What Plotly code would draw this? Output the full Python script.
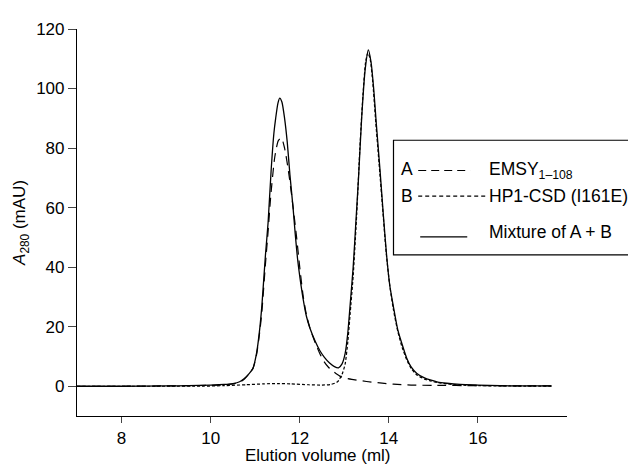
import plotly.graph_objects as go

# ---- data ----
mix_x = [7.0, 8.0, 9.0, 9.5, 10.0, 10.3, 10.5, 10.65, 10.75, 10.85, 10.95, 11.03, 11.1, 11.15,
         11.23, 11.29, 11.36, 11.42, 11.46, 11.51, 11.55, 11.6, 11.66, 11.72, 11.78, 11.85, 11.9,
         11.95, 12.0, 12.08, 12.15, 12.23, 12.35, 12.45, 12.55, 12.67, 12.78, 12.87, 12.95, 13.02,
         13.08, 13.13, 13.2, 13.26, 13.32, 13.39, 13.47, 13.54, 13.6, 13.66, 13.72, 13.8, 13.88,
         13.95, 14.02, 14.1, 14.2, 14.3, 14.4, 14.5, 14.63, 14.8, 14.93, 15.1, 15.3, 15.6, 16.0,
         16.5, 17.0, 17.65]
mix_y = [0.0, 0.0, 0.1, 0.2, 0.4, 0.6, 0.9, 1.5, 2.5, 4.0, 6.0, 11.0, 19.0, 27.0,
         44.0, 55.0, 73.0, 85.0, 90.0, 95.0, 96.8, 95.5, 90.0, 82.0, 71.0, 60.0, 51.0,
         43.0, 37.0, 29.0, 23.5, 19.5, 15.0, 12.0, 9.8, 7.8, 6.6, 6.2, 7.5, 11.0,
         18.0, 27.0, 40.0, 55.0, 70.0, 90.0, 106.5, 113.0, 109.0, 100.0, 88.0, 73.0, 57.0,
         44.0, 34.0, 27.0, 19.0, 14.0, 9.5, 6.5, 4.3, 2.8, 2.1, 1.4, 1.0, 0.6, 0.4,
         0.2, 0.1, 0.1]

emsy_x = [7.0, 8.0, 9.0, 9.5, 10.0, 10.3, 10.5, 10.65, 10.75, 10.85, 10.95, 11.03, 11.1, 11.15,
          11.23, 11.29, 11.35, 11.44, 11.52, 11.59, 11.66, 11.74, 11.82, 11.93, 12.0, 12.08,
          12.15, 12.23, 12.35, 12.45, 12.55, 12.65, 12.75, 12.9, 13.0, 13.17, 13.5, 13.8, 14.1,
          14.5, 15.0, 16.0, 17.0, 17.65]
emsy_y = [0.0, 0.0, 0.1, 0.2, 0.3, 0.5, 0.8, 1.3, 2.3, 4.0, 6.0, 10.5, 18.0, 25.0,
          41.0, 52.0, 64.0, 77.0, 82.5, 83.4, 80.0, 73.0, 64.0, 50.0, 40.0, 30.0,
          24.0, 19.5, 14.5, 11.0, 8.2, 6.3, 5.0, 3.4, 2.8, 2.3, 1.6, 1.1, 0.7,
          0.4, 0.3, 0.2, 0.1, 0.1]

hp1_x = [7.0, 8.0, 9.0, 9.8, 10.3, 10.8, 11.2, 11.5, 11.8, 12.2, 12.5, 12.7, 12.85, 12.95,
         13.02, 13.08, 13.13, 13.2, 13.28, 13.35, 13.42, 13.48, 13.53, 13.58, 13.64, 13.7,
         13.78, 13.86, 13.94, 14.02, 14.1, 14.2, 14.3, 14.4, 14.5, 14.63, 14.8, 14.93, 15.1,
         15.3, 15.6, 16.0, 16.5, 17.65]
hp1_y = [0.0, 0.0, 0.0, 0.0, 0.2, 0.5, 0.8, 0.9, 0.8, 0.5, 0.4, 0.6, 1.5, 4.0,
         7.5, 15.0, 24.0, 37.0, 58.0, 80.0, 98.0, 109.0, 112.0, 110.0, 102.0, 90.0,
         75.0, 60.0, 45.0, 34.0, 26.0, 18.5, 13.0, 9.0, 6.0, 3.8, 2.4, 1.8, 1.2,
         0.8, 0.4, 0.2, 0.1, 0.0]

x_ticks = [8, 10, 12, 14, 16]
y_ticks = [0, 20, 40, 60, 80, 100, 120]

FONT = "Liberation Sans, Arial, Helvetica, sans-serif"

fig = go.Figure()
fig.add_trace(go.Scatter(x=emsy_x, y=emsy_y, mode="lines",
                         line=dict(color="black", width=1.2, dash="9px,6px", shape="spline", smoothing=0.6)))
fig.add_trace(go.Scatter(x=hp1_x, y=hp1_y, mode="lines",
                         line=dict(color="black", width=1.2, dash="3px,2px", shape="spline", smoothing=0.6)))
fig.add_trace(go.Scatter(x=mix_x, y=mix_y, mode="lines",
                         line=dict(color="black", width=1.3, shape="spline", smoothing=0.6)))

# page offset of the plot div (browser body margin); figure sized so the page never overflows
OFF = 8
# plot area in page pixels: x 77..566.7, y 23..416
def px2paper(px, py):
    return (px - 77) / 489.7, (416 - py) / 393

shapes = []
bx0, by0 = px2paper(393.3, 252.3)
bx1, by1 = px2paper(700, 136)
shapes.append(dict(type="rect", xref="paper", yref="paper", x0=bx0, y0=by0, x1=bx1, y1=by1,
                   line=dict(color="black", width=1.2), fillcolor="white", layer="above"))
for (x0p, x1p, yp, dash) in [(418, 470, 166.7, "8px,5px"), (418, 486, 192.7, "4px,3px"),
                             (420, 467, 234, "solid")]:
    a0, b0 = px2paper(x0p, yp)
    a1, _ = px2paper(x1p, yp)
    shapes.append(dict(type="line", xref="paper", yref="paper", x0=a0, y0=b0, x1=a1, y1=b0,
                       line=dict(color="black", width=1.2, dash=dash), layer="above"))

annotations = []
def ann(text, px, py, xanchor="left", size=17.5, **kw):
    xp, yp = px2paper(px, py)
    annotations.append(dict(text=text, x=xp, y=yp, xref="paper", yref="paper", showarrow=False,
                            xanchor=xanchor, yanchor="middle", font=dict(family=FONT, size=size, color="black"), **kw))

ann("A", 407, 165, xanchor="center")
ann("EMSY<sub>1–108</sub>", 487, 167)
ann("B", 407, 192.7, xanchor="center")
ann("HP1-CSD (I161E)", 487, 192.7)
ann("Mixture of A + B", 487, 229.3)
ann("Elution volume (ml)", 317.8, 456.5, xanchor="center", size=17)
ann("<i>A</i><sub>280</sub> (mAU)", 21, 220, xanchor="center", size=17, textangle=-90)

W, H = 636 - 2 * OFF, 472 - 2 * OFF
fig.update_layout(
    width=W, height=H,
    margin=dict(l=77 - OFF, r=W - (566.7 - OFF), t=23 - OFF, b=H - (416 - OFF)),
    paper_bgcolor="white", plot_bgcolor="white",
    showlegend=False,
    font=dict(family=FONT, size=17, color="black"),
    shapes=shapes, annotations=annotations,
    xaxis=dict(range=[7, 18], tickvals=x_ticks, ticks="outside", ticklen=6, tickwidth=1,
               showline=True, linecolor="black", linewidth=1.2, showgrid=False, zeroline=False,
               tickfont=dict(family=FONT, size=17, color="black")),
    yaxis=dict(range=[-10, 120], tickvals=y_ticks, ticks="outside", ticklen=8, tickwidth=1,
               showline=True, linecolor="black", linewidth=1.2, showgrid=False, zeroline=False,
               tickfont=dict(family=FONT, size=17, color="black")),
)

fig.write_html("out.html")
